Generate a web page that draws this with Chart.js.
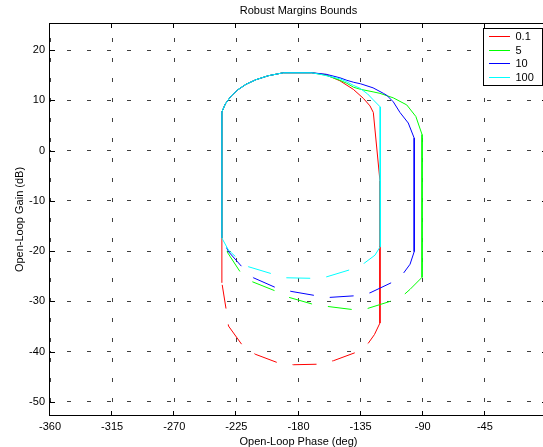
<!DOCTYPE html>
<html>
<head>
<meta charset="utf-8">
<script src="https://cdn.jsdelivr.net/npm/chart.js@4.4.0/dist/chart.umd.min.js"></script>
<style>
  html, body { margin: 0; padding: 0; background: #fff; overflow: hidden; }
  #wrap { width: 543px; height: 447px; overflow: hidden; }
</style>
</head>
<body>
<div id="wrap"><canvas id="nichols" width="560" height="447"></canvas></div>
<script>
// curve labels (legend) and MATLAB line colours
const seriesLabels = ["0.1", "5", "10", "100"];
const seriesColors = ["#ff0000", "#00ff00", "#0000ff", "#00ffff"];

// tick labels
const phaseTicks = [-360, -315, -270, -225, -180, -135, -90, -45, 0];
const gainTicks = [-50, -40, -30, -20, -10, 0, 10, 20];

// upper (solid) and lower (dashed) parts of each bound, phase in deg / gain in dB
const upperPhase01 = [-235.5, -235.5, -233, -229, -224, -218, -211, -202, -191, -170.4, -160, -150, -140.3, -133, -128.2, -125.8, -121, -121];
const upperGain01 = [-26.3, 7.7, 9.3, 10.8, 12.1, 13.2, 14.1, 14.9, 15.5, 15.5, 15.1, 13.9, 12.2, 10.4, 8.9, 7.6, -6.0, -34.3];
const lowerPhase01 = [-121, -125, -129.4, -139, -154.7, -166.8, -183.7, -195, -211.4, -221, -230.7, -232.4, -235.5];
const lowerGain01 = [-34.3, -36.6, -38.3, -40.2, -41.8, -42.5, -42.6, -42.2, -40.5, -38.6, -34.9, -31.6, -26.3];

const upperPhase5 = [-235.5, -235.5, -233, -229, -224, -218, -211, -202, -191, -170.4, -160, -150, -145, -140, -135, -126, -121, -111.3, -101.6, -95, -90.5, -90.5];
const upperGain5 = [-17.4, 7.7, 9.3, 10.8, 12.1, 13.2, 14.1, 14.9, 15.5, 15.5, 15.0, 14.0, 13.4, 12.6, 12.2, 11.7, 11.4, 10.5, 9.1, 6.8, 3.2, -25.2];
const lowerPhase5 = [-90.5, -99.2, -102.9, -113.7, -129.9, -141.4, -159, -170.4, -186.8, -196.9, -213.3, -222.3, -231.1, -235.5];
const lowerGain5 = [-25.2, -27.6, -28.5, -30.0, -31.4, -31.6, -31.0, -30.5, -29.2, -27.9, -26.1, -24.1, -20.4, -17.4];

const upperPhase10 = [-235.5, -235.5, -233, -229, -224, -218, -211, -202, -191, -170.4, -160, -150, -145, -140, -135, -126, -118.5, -116, -111.3, -106.5, -100.5, -96.2, -96.2];
const upperGain10 = [-17.4, 7.7, 9.3, 10.8, 12.1, 13.2, 14.1, 14.9, 15.5, 15.5, 15.2, 14.5, 14.0, 13.6, 13.3, 12.5, 11.4, 11.0, 9.7, 7.6, 5.5, 2.5, -20.1];
const lowerPhase10 = [-96.2, -99.2, -104, -112.9, -128.2, -140.3, -157.6, -168.5, -185.4, -196.9, -212.6, -221, -230.7, -235.5];
const lowerGain10 = [-20.1, -22.6, -24.4, -26.3, -28.3, -28.9, -29.2, -28.8, -28.0, -27.2, -25.3, -23.1, -20.1, -17.4];

const upperPhase100 = [-235.5, -235.5, -233, -229, -224, -218, -211, -202, -191, -170.4, -164.4, -150, -145, -140.3, -135.4, -130, -125.8, -120.8, -120.8];
const upperGain100 = [-17.4, 7.7, 9.3, 10.8, 12.1, 13.2, 14.1, 14.9, 15.5, 15.5, 15.2, 14.3, 13.7, 13.0, 12.4, 11.3, 10.1, 8.7, -19.1];
const lowerPhase100 = [-120.8, -124.6, -132.4, -142.7, -159.5, -170.4, -188.5, -199.3, -216.2, -224, -230.7, -235.5];
const lowerGain100 = [-19.1, -20.8, -22.4, -23.7, -25.1, -25.4, -25.3, -24.5, -23.1, -21.5, -19.8, -17.4];

const upperParts = [
  [upperPhase01, upperGain01],
  [upperPhase5, upperGain5],
  [upperPhase10, upperGain10],
  [upperPhase100, upperGain100],
];
const lowerParts = [
  [lowerPhase01, lowerGain01],
  [lowerPhase5, lowerGain5],
  [lowerPhase10, lowerGain10],
  [lowerPhase100, lowerGain100],
];

const toPoints = (phase, gain) => phase.map((p, i) => ({ x: p, y: gain[i] }));

Chart.defaults.font.family = "'Liberation Sans', Arial, sans-serif";
Chart.defaults.font.size = 11;
Chart.defaults.color = "#000";

const datasets = [];
seriesLabels.forEach((label, i) => {
  datasets.push({
    label: label,
    data: toPoints(upperParts[i][0], upperParts[i][1]),
    borderColor: seriesColors[i],
    borderWidth: 1,
    showLine: true,
    pointRadius: 0,
    order: 10 - i,
  });
});
seriesLabels.forEach((label, i) => {
  datasets.push({
    label: "",
    data: toPoints(lowerParts[i][0], lowerParts[i][1]),
    borderColor: seriesColors[i],
    borderWidth: 1,
    borderDash: [24, 16],
    showLine: true,
    pointRadius: 0,
    order: 10 - i,
  });
});

// black box round the axes, with ticks pointing inwards
const matlabBox = {
  id: "matlabBox",
  afterDatasetsDraw(chart) {
    const { ctx, chartArea: { left, right, top, bottom }, scales: { x, y } } = chart;
    ctx.save();
    ctx.setLineDash([]);
    ctx.strokeStyle = "#000";
    ctx.lineWidth = 1;
    ctx.beginPath();
    phaseTicks.forEach((v) => {
      const px = Math.round(x.getPixelForValue(v)) - 0.5;
      ctx.moveTo(px, bottom);
      ctx.lineTo(px, bottom - 5);
      ctx.moveTo(px, top);
      ctx.lineTo(px, top + 5);
    });
    gainTicks.forEach((v) => {
      const py = Math.round(y.getPixelForValue(v)) + 0.5;
      ctx.moveTo(left, py);
      ctx.lineTo(left + 5, py);
      ctx.moveTo(right, py);
      ctx.lineTo(right - 5, py);
    });
    ctx.stroke();
    ctx.strokeRect(Math.round(left) - 0.5, Math.round(top) + 0.5, Math.round(right - left), Math.round(bottom - top) - 1);
    ctx.restore();
  },
};

// legend box inside the upper right corner
const matlabLegend = {
  id: "matlabLegend",
  afterDraw(chart) {
    const { ctx, chartArea: { right, top } } = chart;
    const boxW = 59;
    const rowH = 13.6;
    const boxH = 57;
    const bx = Math.round(right - 5 - boxW) + 0.5;
    const by = Math.round(top + 5) + 0.5;
    ctx.save();
    ctx.setLineDash([]);
    ctx.fillStyle = "#fff";
    ctx.fillRect(bx, by, boxW, boxH);
    ctx.strokeStyle = "#000";
    ctx.lineWidth = 1;
    ctx.strokeRect(bx, by, boxW, boxH);
    ctx.font = "11px 'Liberation Sans', Arial, sans-serif";
    ctx.textBaseline = "middle";
    ctx.textAlign = "left";
    seriesLabels.forEach((label, i) => {
      const ry = Math.round(by + 7.5 + i * rowH) + 0.5;
      ctx.strokeStyle = seriesColors[i];
      ctx.beginPath();
      ctx.moveTo(bx + 5.5, ry);
      ctx.lineTo(bx + 26.5, ry);
      ctx.stroke();
      ctx.fillStyle = "#000";
      ctx.fillText(label, bx + 32, ry);
    });
    ctx.restore();
  },
};

const gridStyle = { color: "rgba(0,0,0,0.75)", lineWidth: 1, drawTicks: false };

new Chart(document.getElementById("nichols"), {
  type: "scatter",
  data: { datasets: datasets },
  plugins: [matlabBox, matlabLegend],
  options: {
    responsive: false,
    animation: false,
    layout: { padding: { left: 0, right: 13, top: 0, bottom: 0 } },
    plugins: {
      legend: { display: false },
      tooltip: { enabled: false },
      title: {
        display: true,
        text: "Robust Margins Bounds",
        fullSize: false,
        color: "#000",
        font: { size: 11, weight: "normal" },
        padding: { top: 4, bottom: 5.8 },
      },
    },
    scales: {
      x: {
        type: "linear",
        min: -360,
        max: 0,
        afterFit(scale) { scale.height = 31; },
        afterBuildTicks(scale) { scale.ticks = phaseTicks.map((v) => ({ value: v })); },
        ticks: { padding: 4, autoSkip: false, maxRotation: 0 },
        grid: gridStyle,
        border: { display: false, dash: [4, 16], dashOffset: 5 },
        title: {
          display: true,
          text: "Open-Loop Phase (deg)",
          font: { size: 11, lineHeight: 1 },
          padding: { top: 0, bottom: 0 },
        },
      },
      y: {
        type: "linear",
        min: -52.8,
        max: 25.4,
        afterFit(scale) { scale.width = 50; },
        afterBuildTicks(scale) { scale.ticks = gainTicks.map((v) => ({ value: v })); },
        ticks: { padding: 5 },
        grid: gridStyle,
        border: { display: false, dash: [4, 16], dashOffset: 3 },
        title: {
          display: true,
          text: "Open-Loop Gain (dB)",
          font: { size: 11 },
          padding: { top: 13.4, bottom: 0 },
        },
      },
    },
  },
});
</script>
</body>
</html>
